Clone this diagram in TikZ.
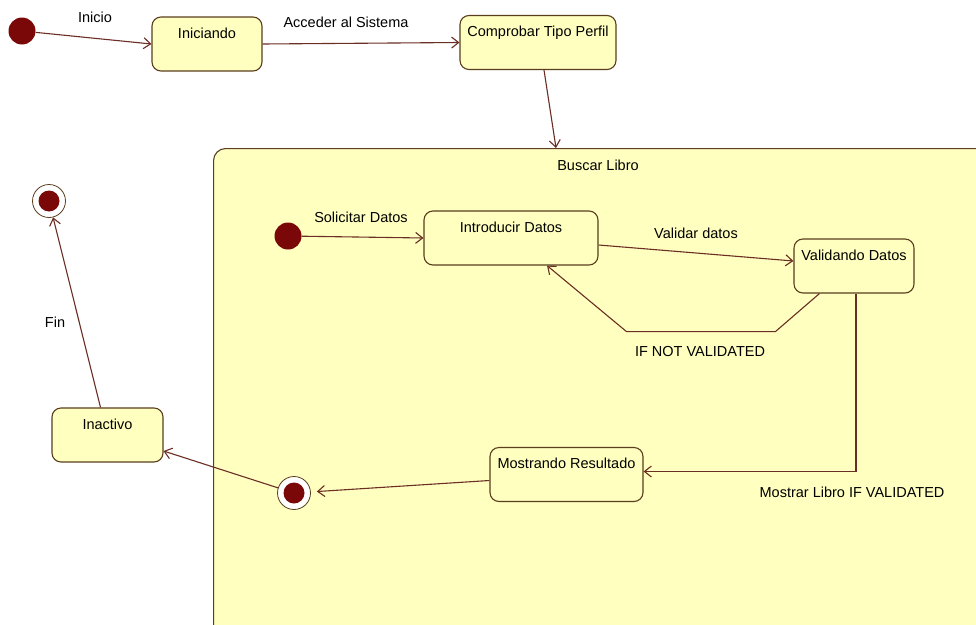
\documentclass[tikz,border=0pt]{standalone}
\usepackage{fontspec}
\setmainfont{Liberation Sans}
\usetikzlibrary{calc,positioning,arrows.meta}
\definecolor{umlfill}{HTML}{FFFFC0}
\definecolor{umldot}{HTML}{7A0808}
\definecolor{umledge}{HTML}{6B2E24}
\definecolor{umlborder}{HTML}{5A3E1E}

\tikzset{
  state/.style={draw=umlborder, line width=1.1pt, fill=umlfill, rounded corners=9pt,
    minimum width=#1, inner xsep=3pt, inner ysep=9pt, text height=12pt, text depth=24pt},
  initial/.style={circle, fill=umldot, minimum size=27pt, inner sep=0pt},
  final/.style={circle, draw=umlborder, line width=0.8pt, fill=white, minimum size=33pt, inner sep=0pt,
    path picture={\fill[umldot] (path picture bounding box.center) circle (10.5pt);}},
  trans/.style={draw=umledge, line width=1.1pt, -{Straight Barb[length=7pt,width=11pt]}},
}

\begin{document}
\begin{tikzpicture}[x=1pt, y=-1pt, every node/.style={font=\fontsize{14.5}{17}\selectfont}]
    \fill[white, use as bounding box] (0,0) rectangle (976,624);

    % Buscar Libro (composite state)
    \node[draw=umlborder, line width=1.1pt, fill=umlfill, rounded corners=12pt,
          minimum width=800pt, minimum height=520pt, anchor=north west] (buscar) at (213,148) {};
    \node (buscarlbl) at (598,165) {Buscar Libro};
    \coordinate (btop) at (556,148);

    % states
    \node[initial] (init1) at (22,31) {};
    \node[state=110pt] (ini) at (207,44) {Iniciando};
    \node[state=156pt] (comp) at (538,42.5) {Comprobar Tipo Perfil};
    \node[initial] (init2) at (288,236) {};
    \node[state=174pt] (intro) at (511,238) {Introducir Datos};
    \node[state=120pt] (valid) at (854,266) {Validando Datos};
    \node[state=153pt] (most) at (566.5,474.5) {Mostrando Resultado};
    \node[final] (fin2) at (294,493) {};
    \node[state=111pt] (inact) at (107.5,435) {Inactivo};
    \node[final] (fin1) at (49,201) {};

    % labels
    \node (inicio) at (95,17) {Inicio};
    \node (acceder) at (346,22) {Acceder al Sistema};
    \node (solicitar) at (361,217) {Solicitar Datos};
    \node (validar) at (696,233) {Validar datos};
    \node (notval) at (700,352) {IF NOT VALIDATED};
    \node (mostrarlbl) at (852,492) {Mostrar Libro IF VALIDATED};
    \node (fin) at (55,322) {Fin};

    % transitions
    \draw[trans] (init1) -- (ini.west);
    \draw[trans] (ini.east) -- (comp.west);
    \draw[trans] ($(comp.south)+(6,0)$) -- (btop);
    \draw[trans] (init2) -- (intro.west);
    \draw[trans] ($(intro.east)+(0,7)$) -- ($(valid.west)+(0,-5)$);
    \draw[trans] ($(valid.south west)+(26,0)$) -- ++(-44,38) -- ++(-149,0) -- ($(intro.south)+(36,0)$);
    \draw[trans] ($(valid.south)+(2,0)$) |- ($(most.east)+(0,-3)$);
    \draw[trans, shorten >=6pt] ($(most.west)+(0,6)$) -- (fin2);
    \draw[trans] (fin2) -- ($(inact.east)+(0,16)$);
    \draw[trans] ($(inact.north)+(-7,0)$) -- (fin1);
\end{tikzpicture}
\end{document}
